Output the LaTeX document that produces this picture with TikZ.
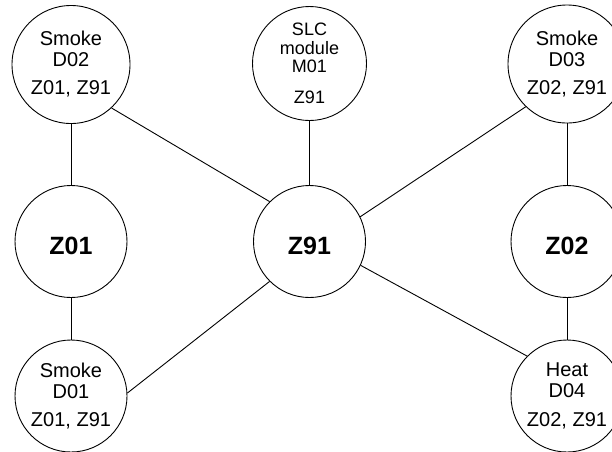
\documentclass[tikz,border=0pt]{standalone}
\usepackage{fontspec}
\setmainfont{Liberation Sans}
\usetikzlibrary{positioning}

\begin{document}
\begin{tikzpicture}[x=1pt,y=-1pt,line width=0.9pt,
    device/.style={draw,circle,inner sep=0pt,minimum size=118pt,align=center,
      font=\fontsize{20}{21}\selectfont},
    zone/.style={draw,circle,inner sep=0pt,minimum size=112pt,
      text height=26pt,text depth=0pt,font=\fontsize{25}{30}\selectfont\bfseries}]
  \useasboundingbox (0,0) rectangle (612,451);
  % zones
  \node[zone] (z01) at (71,241.5) {Z01};
  \node[zone] (z91) at (309.5,241.5) {Z91};
  \node[zone] (z02) at (567,241.5) {Z02};
  % devices
  \node[device] (d02) at (71,64.5) {Smoke\\D02\\[7pt]Z01, Z91};
  \node[device,minimum size=114pt,font=\fontsize{18}{18.5}\selectfont] (m01) at (309.5,63.5)
    {SLC\\module\\M01\\[12pt]Z91};
  \node[device] (d03) at (567,64) {Smoke\\D03\\[7pt]Z02, Z91};
  \node[device,minimum size=112pt] (d01) at (71,396) {Smoke\\D01\\[7pt]Z01, Z91};
  \node[device,minimum size=112pt] (d04) at (567,396) {Heat\\D04\\[8pt]Z02, Z91};
  % links
  \draw (d02) -- (z01);
  \draw (z01) -- (d01);
  \draw (m01) -- (z91);
  \draw (d03) -- (z02);
  \draw (z02) -- (d04);
  \draw (d02.-47) -- (z91.135);
  \draw (d03.226) -- (z91.26);
  \draw (d01.3) -- (z91.225);
  \draw (d04.135) -- (z91.-25);
\end{tikzpicture}
\end{document}
